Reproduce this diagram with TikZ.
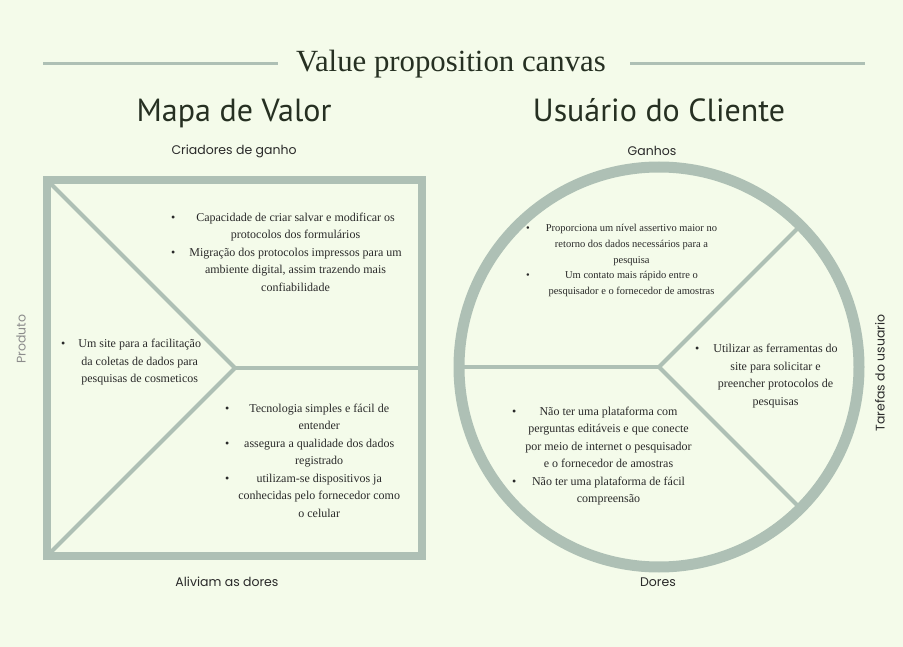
\documentclass[tikz,border=0pt]{standalone}
\usepackage{fontspec}
\usepackage{array}
\setmainfont{Liberation Serif}
\newfontfamily\headfont{PT Sans}
\newfontfamily\labelfont{Poppins}

\definecolor{canvasbg}{HTML}{F4FBEA}
\definecolor{framegray}{HTML}{AEC0B5}
\definecolor{ink}{HTML}{2A2A2A}
\definecolor{titleink}{HTML}{263022}
\definecolor{softink}{HTML}{8C8C8C}

% bullet list: gap between bullet and text, then the rows
\newcommand{\bulletlist}[2]{\begin{tabular}{@{}c@{\hspace{#1}}c@{}}#2\end{tabular}}
\newcommand{\gbullet}{\textbullet}

\begin{document}
\begin{tikzpicture}[x=1pt,y=-1pt]
    % Define styles
    \tikzset{
        frameline/.style={draw=framegray, line width=8pt},
        ringline/.style={draw=framegray, line width=11pt},
        divider/.style={draw=framegray, line width=4pt},
        titlerule/.style={draw=framegray, line width=3pt},
        heading/.style={font=\headfont\fontsize{32}{37}\selectfont, text=titleink, inner sep=0pt, anchor=base},
        sidelabel/.style={font=\labelfont\fontsize{12.5}{15}\selectfont, text=ink, inner sep=0pt},
        body/.style={font=\fontsize{12}{17.5}\selectfont, text=ink, inner sep=0pt, anchor=west},
        smallbody/.style={font=\fontsize{10.5}{15.6}\selectfont, text=ink, inner sep=0pt, anchor=west}
    }

    % Background
    \fill[canvasbg] (0,0) rectangle (903,647);
    \useasboundingbox (0,0) rectangle (903,647);

    % Title with rules
    \node[font=\fontsize{30.8}{35}\selectfont, text=titleink, inner sep=0pt] (title) at (451,64) {Value proposition canvas};
    \draw[titlerule] (43,64) -- (278,64);
    \draw[titlerule] (630,64) -- (865,64);

    % Headings
    \node[heading] (mapa) at (234,122) {Mapa de Valor};
    \node[heading] (usuario) at (659,122) {Usuário do Cliente};

    % Value map square
    \coordinate (sqNW) at (47,180);
    \coordinate (sqSE) at (422,556);
    \coordinate (sqV) at (235,368);
    \draw[divider] (sqNW) -- (sqV) -- (47,556);
    \draw[divider] (sqV) -- (422,368);
    \draw[frameline] (sqNW) rectangle (sqSE);

    % Customer profile circle
    \coordinate (ringC) at (659,367);
    \draw[divider] (ringC) -- ++(-200,0);
    \draw[divider] (ringC) -- ++(45:200);
    \draw[divider] (ringC) -- ++(-45:200);
    \draw[ringline] (ringC) circle[radius=200pt];

    % Section labels
    \node[sidelabel] (criadores) at (234,151) {Criadores de ganho};
    \node[sidelabel] (aliviam) at (227,582) {Aliviam as dores};
    \node[sidelabel, text=softink, rotate=90] (produto) at (21,339) {Produto};
    \node[sidelabel] (ganhos) at (652,151) {Ganhos};
    \node[sidelabel] (dores) at (658,582) {Dores};
    \node[sidelabel, rotate=90] (tarefas) at (880,373) {Tarefas do usuario};

    % Gain creators
    \node[body] (gainlist) at (171,253) {\bulletlist{14pt}{
        \gbullet & Capacidade de criar salvar e modificar os\\
                 & protocolos dos formulários\\
        \gbullet & Migração dos protocolos impressos para um\\
                 & ambiente digital, assim trazendo mais\\
                 & confiabilidade}};

    % Product
    \node[body] (productlist) at (61,361.5) {\bulletlist{13pt}{
        \gbullet & Um site para a facilitação\\
                 & da coletas de dados para\\
                 & pesquisas de cosmeticos}};

    % Pain relievers
    \node[body] (relieflist) at (225,461) {\bulletlist{9pt}{
        \gbullet & Tecnologia simples e fácil de\\
                 & entender\\
        \gbullet & assegura a qualidade dos dados\\
                 & registrado\\
        \gbullet & utilizam-se dispositivos ja\\
                 & conhecidas pelo fornecedor como\\
                 & o celular}};

    % Gains
    \node[smallbody] (ganhoslist) at (526,260) {\bulletlist{16pt}{
        \gbullet & Proporciona um nível assertivo maior no\\
                 & retorno dos dados necessários para a\\
                 & pesquisa\\
        \gbullet & Um contato mais rápido entre o\\
                 & pesquisador e o fornecedor de amostras}};

    % Customer jobs
    \node[body] (tarefaslist) at (695,375.5) {\bulletlist{14pt}{
        \gbullet & Utilizar as ferramentas do\\
                 & site para solicitar e\\
                 & preencher protocolos de\\
                 & pesquisas}};

    % Pains
    \node[body] (doreslist) at (512,455.5) {\bulletlist{9pt}{
        \gbullet & Não ter uma plataforma com\\
                 & perguntas editáveis e que conecte\\
                 & por meio de internet o pesquisador\\
                 & e o fornecedor de amostras\\
        \gbullet & Não ter uma plataforma de fácil\\
                 & compreensão}};
\end{tikzpicture}
\end{document}
